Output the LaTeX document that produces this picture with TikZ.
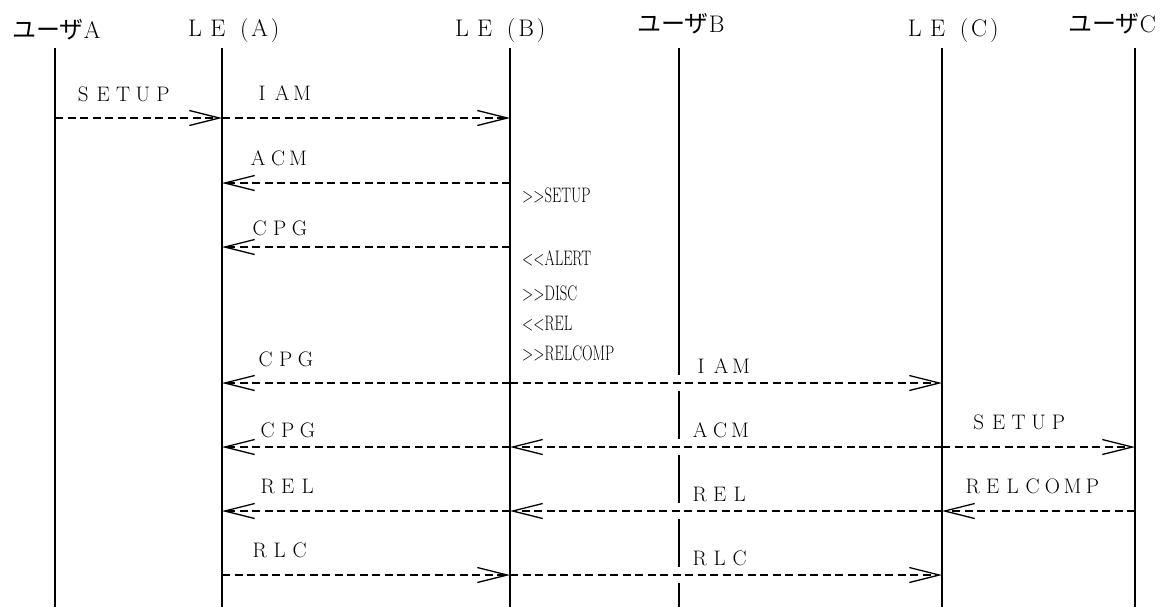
\documentclass[tikz,border=0pt]{standalone}
\usepackage{fontspec}
\usepackage{graphicx}
\usepackage{tikz}
\usetikzlibrary{arrows.meta,positioning}

\newfontfamily\jpfont{Noto Sans CJK JP}
% full-width cells for spaced capitals
\newcommand\fw[1]{\fwloop#1\relax}
\def\fwloop#1{\ifx\relax#1\else\makebox[0.95em]{#1}\expandafter\fwloop\fi}
\newcommand\twogt{>\kern0pt>}
\newcommand\twolt{<\kern0pt<}
\newcommand\lename[1]{\fw{LE}\kern0.45em(\kern0.12em#1\kern0.12em)}

\begin{document}
\begin{tikzpicture}[
    x=1pt,
    y=-1pt,
    life/.style={line width=1.5pt},
    msg/.style={line width=1.3pt, dash pattern=on 8pt off 4.5pt,
        -{Straight Barb[length=30pt,width=15pt,line width=1.3pt]}},
    title/.style={font=\fontsize{24}{24}\selectfont, anchor=base, inner sep=0pt},
    lbl/.style={font=\fontsize{21}{21}\selectfont, anchor=base west, inner sep=0pt},
    note/.style={font=\fontsize{21}{21}\selectfont, anchor=base west, inner sep=0pt}
]
    \useasboundingbox (0,0) rectangle (1161,610);

    % Lifeline ends and message rows
    \foreach \n/\x in {userA/55, leA/222, leB/510, userB/679, leC/942, userC/1135} {
        \coordinate (\n) at (\x,48);
        \coordinate (\n-end) at (\x,607);
    }
    \foreach \r/\y in {1/118, 2/183, 3/247, 4/383, 5/447, 6/511, 7/575}
        \coordinate (m\r) at (0,\y);

    % Titles
    \node[title] (userA-title) at (56.5,38) {{\jpfont ユーザ}A};
    \node[title] (leA-title) at (231.5,37) {\lename{A}};
    \node[title] (leB-title) at (498,37) {\lename{B}};
    \node[title] (userB-title) at (681,33) {{\jpfont ユーザ}B};
    \node[title] (leC-title) at (951,37) {\lename{C}};
    \node[title] (userC-title) at (1112,33) {{\jpfont ユーザ}C};

    % Lifelines
    \foreach \n in {userA, leA, leB, leC, userC}
        \draw[life] (\n) -- (\n-end);
    % userB is broken where the messages pass
    \draw[life] (userB) -- ([yshift=8pt]userB |- m4);
    \foreach \a/\b in {4/5, 5/6, 6/7}
        \draw[life] ([yshift=-8pt]userB |- m\a) -- ([yshift=8pt]userB |- m\b);
    \draw[life] ([yshift=-8pt]userB |- m7) -- (userB-end);

    % Messages
    \draw[msg] (userA |- m1) -- (leA |- m1);
    \draw[msg] (leA |- m1) -- (leB |- m1);
    \draw[msg] (leB |- m2) -- (leA |- m2);
    \draw[msg] (leB |- m3) -- (leA |- m3);
    \draw[msg] (leB |- m4) -- (leA |- m4);
    \draw[msg] (leB |- m4) -- (leC |- m4);
    \draw[msg] (leB |- m5) -- (leA |- m5);
    \draw[msg] (leC |- m5) -- (leB |- m5);
    \draw[msg] (leC |- m5) -- (userC |- m5);
    \draw[msg] (userC |- m6) -- (leC |- m6);
    \draw[msg] (leC |- m6) -- (leB |- m6);
    \draw[msg] (leB |- m6) -- (leA |- m6);
    \draw[msg] (leA |- m7) -- (leB |- m7);
    \draw[msg] (leB |- m7) -- (leC |- m7);

    % Message labels
    \node[lbl] (setup1) at (73,101) {\fw{SETUP}};
    \node[lbl] (iam1) at (252,100) {\fw{IAM}};
    \node[lbl] (acm2) at (248,165) {\fw{ACM}};
    \node[lbl] (cpg3) at (249.5,235) {\fw{CPG}};
    \node[lbl] (cpg4) at (255.5,366) {\fw{CPG}};
    \node[lbl] (iam4) at (691,373) {\fw{IAM}};
    \node[lbl] (cpg5) at (257.5,437) {\fw{CPG}};
    \node[lbl] (acm5) at (690,437) {\fw{ACM}};
    \node[lbl] (setup5) at (968.5,429) {\fw{SETUP}};
    \node[lbl] (rel6) at (257.5,493) {\fw{REL}};
    \node[lbl] (rel6b) at (689.5,501) {\fw{REL}};
    \node[lbl] (relcomp6) at (962.5,493) {\fw{RELCOMP}};
    \node[lbl] (rlc7) at (249.5,557) {\fw{RLC}};
    \node[lbl] (rlc7b) at (689.5,565) {\fw{RLC}};

    % Subscriber side events at LE(B)
    \node[note] (ev1) at (522,202) {\scalebox{0.7}[1]{\twogt SETUP}};
    \node[note] (ev2) at (522,265) {\scalebox{0.7}[1]{\twolt ALERT}};
    \node[note] (ev3) at (522,300) {\scalebox{0.7}[1]{\twogt DISC}};
    \node[note] (ev4) at (522,330) {\scalebox{0.7}[1]{\twolt REL}};
    \node[note] (ev5) at (522,360) {\scalebox{0.7}[1]{\twogt RELCOMP}};
\end{tikzpicture}
\end{document}
